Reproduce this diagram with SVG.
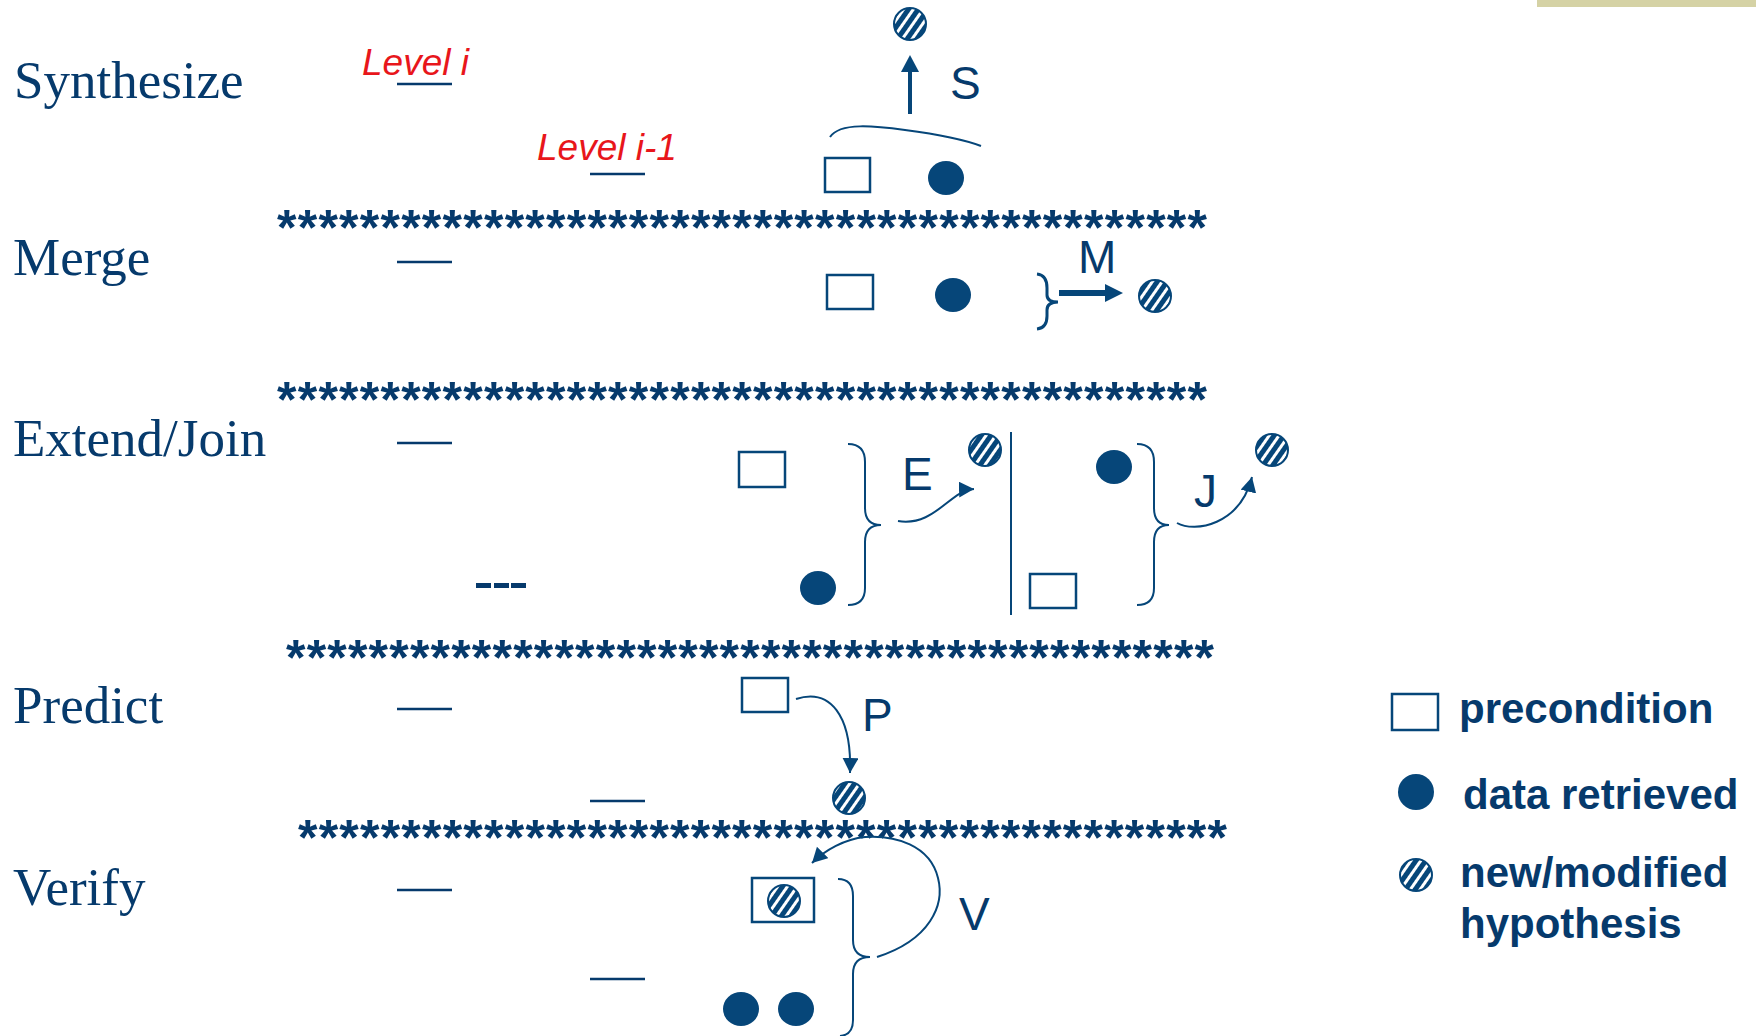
<svg xmlns="http://www.w3.org/2000/svg" width="1756" height="1036" viewBox="0 0 1756 1036">
<style>
.lbl{font-family:"Liberation Serif","Times New Roman",serif;font-size:53px;fill:#063a6c}
.red{font-family:"Liberation Sans",Arial,sans-serif;font-size:37px;font-style:italic;fill:#e8161b}
.stars{font-family:"Liberation Sans",Arial,sans-serif;font-weight:bold;font-size:50px;fill:#063a6c}
.op{font-family:"Liberation Sans",Arial,sans-serif;font-size:46px;fill:#063a6c}
.leg{font-family:"Liberation Sans",Arial,sans-serif;font-weight:bold;font-size:42px;fill:#063a6c}
.dash{stroke:#063a6c;stroke-width:2.5}
.sq{fill:#fff;stroke:#064679;stroke-width:2.5}
.dot{fill:#064679}
.hyp{fill:url(#hatch);stroke:#064679;stroke-width:2}
.ln{fill:none;stroke:#064679;stroke-width:2.5}
.br{fill:none;stroke:#064679;stroke-width:2}
</style>
<defs>
<pattern id="hatch" patternUnits="userSpaceOnUse" width="8" height="8" patternTransform="rotate(35)">
<rect width="8" height="8" fill="#064679"/>
<rect x="0" width="3" height="8" fill="#fff"/>
</pattern>
<marker id="ah" markerUnits="userSpaceOnUse" markerWidth="18" markerHeight="18" refX="15" refY="8" orient="auto">
<path d="M0,0 L15,8 L0,16 z" fill="#064679"/>
</marker>
</defs>
<rect x="1537" y="0" width="219" height="7" fill="#d5d2a5"/>

<g id="row-labels">
<text class="lbl" x="14" y="98">Synthesize</text>
<text class="lbl" x="13" y="275">Merge</text>
<text class="lbl" x="13" y="456">Extend/Join</text>
<text class="lbl" x="13" y="723">Predict</text>
<text class="lbl" x="13" y="905">Verify</text>
</g>

<g id="levels">
<text class="red" x="362" y="75">Level i</text>
<text class="red" x="537" y="160">Level i-1</text>
</g>

<g id="level-dashes">
<line class="dash" x1="397" y1="84" x2="452" y2="84"/>
<line class="dash" x1="590" y1="174" x2="645" y2="174"/>
<line class="dash" x1="397" y1="262" x2="452" y2="262"/>
<line class="dash" x1="397" y1="443" x2="452" y2="443"/>
<line class="dash" x1="397" y1="709" x2="452" y2="709"/>
<line class="dash" x1="590" y1="801" x2="645" y2="801"/>
<line class="dash" x1="397" y1="890" x2="452" y2="890"/>
<line class="dash" x1="590" y1="979" x2="645" y2="979"/>
<g fill="#063a6c">
<rect x="476" y="583" width="15" height="5"/>
<rect x="494" y="583" width="15" height="5"/>
<rect x="511" y="583" width="15" height="5"/>
</g>
</g>

<g id="separators">
<text class="stars" x="277" y="245" textLength="930" lengthAdjust="spacing">*********************************************</text>
<text class="stars" x="277" y="417" textLength="930" lengthAdjust="spacing">*********************************************</text>
<text class="stars" x="286" y="675" textLength="928" lengthAdjust="spacing">*********************************************</text>
<text class="stars" x="298" y="855" textLength="929" lengthAdjust="spacing">*********************************************</text>
</g>

<g id="synthesize">
<circle class="hyp" cx="910" cy="24" r="16"/>
<rect class="sq" x="825" y="158" width="45" height="34"/>
<ellipse class="dot" cx="946" cy="178" rx="18" ry="17"/>
</g>

<g id="merge">
<rect class="sq" x="827" y="275" width="46" height="34"/>
<ellipse class="dot" cx="953" cy="295" rx="18" ry="17"/>
<circle class="hyp" cx="1155" cy="296" r="16"/>
</g>

<g id="extend">
<rect class="sq" x="739" y="452" width="46" height="35"/>
<ellipse class="dot" cx="818" cy="588" rx="18" ry="17"/>
<circle class="hyp" cx="985" cy="450" r="16"/>
</g>

<g id="join">
<ellipse class="dot" cx="1114" cy="467" rx="18" ry="17"/>
<rect class="sq" x="1030" y="574" width="46" height="34"/>
<circle class="hyp" cx="1272" cy="450" r="16"/>
</g>

<g id="predict">
<rect class="sq" x="742" y="678" width="46" height="34"/>
<circle class="hyp" cx="849" cy="798" r="16"/>
</g>

<g id="verify">
<rect class="sq" x="752" y="878" width="62" height="44"/>
<circle class="hyp" cx="784" cy="901" r="16"/>
<ellipse class="dot" cx="741" cy="1009" rx="18" ry="17"/>
<ellipse class="dot" cx="796" cy="1009" rx="18" ry="17"/>
</g>

<g id="legend">
<rect class="sq" x="1392" y="694" width="46" height="36"/>
<text class="leg" x="1459" y="723">precondition</text>
<ellipse class="dot" cx="1416" cy="792" rx="18" ry="18"/>
<text class="leg" x="1463" y="809">data retrieved</text>
<circle class="hyp" cx="1416" cy="875" r="16"/>
<text class="leg" x="1460" y="887">new/modified</text>
<text class="leg" x="1460" y="938">hypothesis</text>
</g>

<g id="connectors">
<path class="br" d="M830,137 C840,122 875,126 905,130 C935,134 960,138 981,146"/>
<line x1="910" y1="114" x2="910" y2="70" stroke="#064679" stroke-width="4"/>
<polygon points="901,72 910,55 919,72" fill="#064679"/>

<path d="M1037,274 Q1047,275 1047,288 L1047,295 Q1047,302 1058,302 Q1047,302 1047,310 L1047,316 Q1047,328 1037,329" fill="none" stroke="#064679" stroke-width="3"/>
<polygon points="1059,290 1105,290 1105,284 1123,293 1105,302 1105,296 1059,296" fill="#064679"/>

<path class="br" d="M848,444 Q865,444 865,462 L865,508 Q865,525 881,525 Q865,525 865,542 L865,588 Q865,605 848,605"/>
<path class="br" d="M898,521 C935,527 950,490 974,489" marker-end="url(#ah)"/>
<line class="br" x1="1011" y1="432" x2="1011" y2="615"/>
<path class="br" d="M1137,444 Q1154,444 1154,462 L1154,508 Q1154,525 1169,525 Q1154,525 1154,542 L1154,588 Q1154,605 1137,605"/>
<path class="br" d="M1177,523 C1195,533 1240,525 1252,477" marker-end="url(#ah)"/>

<path class="br" d="M796,699 C830,688 852,715 850,773" marker-end="url(#ah)"/>

<path class="br" d="M838,879 Q853,879 853,896 L853,940 Q853,957 870,957 Q853,957 853,974 L853,1020 Q853,1035 840,1036"/>
<path class="br" d="M877,957 C930,940 945,905 938,878 C930,845 895,835 865,837 C845,839 825,850 812,863" marker-end="url(#ah)"/>
</g>

<g id="operator-labels">
<text class="op" x="950" y="99">S</text>
<text class="op" x="1078" y="273" font-size="44">M</text>
<text class="op" x="902" y="490" font-size="43">E</text>
<text class="op" x="1194" y="507">J</text>
<text class="op" x="862" y="731">P</text>
<text class="op" x="959" y="930">V</text>
</g>
</svg>
